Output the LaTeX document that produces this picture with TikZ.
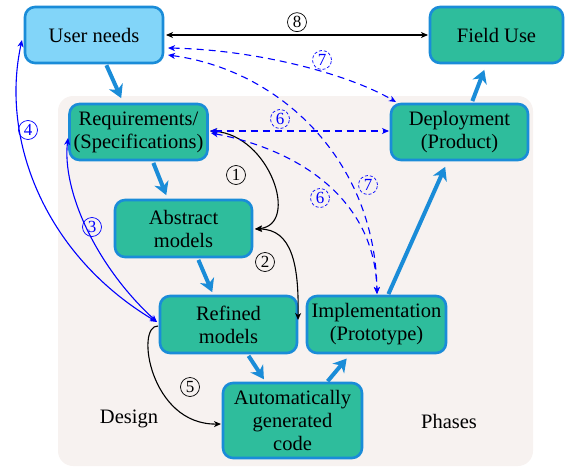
\documentclass[tikz,border=0pt]{standalone}
\usepackage{fontspec}
\setmainfont{Liberation Serif}
\newfontfamily\serf{Liberation Serif}
\usetikzlibrary{arrows.meta}
\definecolor{lblue}{HTML}{82D5F9}
\definecolor{bordblue}{HTML}{1A8CD8}
\definecolor{teal2}{HTML}{2EBD9C}
\definecolor{bgcol}{HTML}{F7F2F0}
\definecolor{pureblue}{HTML}{0000FF}
\begin{document}
\begin{tikzpicture}[x=1pt,y=-1pt,
  box/.style={draw=bordblue, line width=2.6pt, fill=teal2, rounded corners=10pt,
    minimum width=138pt, minimum height=56pt, align=center, inner sep=0pt,
    font=\serf\fontsize{20.5}{23}\selectfont},
  ubox/.style={box, fill=lblue},
  flow/.style={draw=bordblue, line width=4pt, -{Stealth[length=13pt,width=15pt,inset=4pt]}, shorten >=2pt, shorten <=1pt},
  thinarr/.style={line width=1.1pt, {Stealth[length=7pt,width=6pt,inset=2pt]}-{Stealth[length=7pt,width=6pt,inset=2pt]}},
  blk/.style={thinarr, black},
  blu/.style={thinarr, pureblue},
  dsh/.style={thinarr, pureblue, dash pattern=on 7pt off 5pt},
  num/.style={circle, draw, line width=0.7pt, inner sep=0pt, minimum size=19pt, font=\serf\fontsize{17}{17}\selectfont},
  bnum/.style={num, pureblue},
  dnum/.style={num, pureblue, dash pattern=on 3pt off 2pt},
  lbl/.style={font=\serf\fontsize{20.5}{23}\selectfont}
]
\useasboundingbox (0,0) rectangle (565,466);
\fill[bgcol, rounded corners=15pt] (58,96) rectangle (533,466);

\node[ubox] (user) at (94,35) {User needs};
\node[box, minimum width=133pt] (field) at (496.5,35) {Field Use};
\node[box] (req) at (138.5,132) {Requirements/\\(Specifications)};
\node[box, minimum width=137pt] (dep) at (459.5,132) {Deployment\\(Product)};
\node[box, minimum width=137pt, minimum height=57pt] (abs) at (183.5,228.5) {Abstract\\models};
\node[box, minimum width=137pt, minimum height=57pt] (ref) at (228.5,324.5) {Refined\\models};
\node[box, minimum width=139pt, minimum height=57pt] (imp) at (376.5,324.5) {Implementation\\(Prototype)};
\node[box, minimum width=139pt, minimum height=75pt] (code) at (292.5,420.5) {Automatically\\generated\\code};

\node[lbl] (design) at (129,419) {Design};
\node[lbl] (phases) at (449,421) {Phases};

% coordinates on borders
\coordinate (uE1) at (166,35);
\coordinate (uE2) at (168,48);
\coordinate (uE3) at (168,55);
\coordinate (uW) at (22,40);
\coordinate (fW) at (428,35);
\coordinate (rE) at (210,131);
\coordinate (rE2) at (211,133);
\coordinate (rW) at (68,138);
\coordinate (dW) at (389,131);
\coordinate (dNW) at (396,102);
\coordinate (aE) at (255,229);
\coordinate (fE) at (298,320);
\coordinate (fWp) at (157,322);
\coordinate (fW2) at (158,326);
\coordinate (cW) at (221,424);
\coordinate (iN) at (377,294);

% flow arrows
\draw[flow] (user.south -| 106,0) -- (122,100);
\draw[flow] (153,162) -- (167,197);
\draw[flow] (198,259) -- (213,294);
\draw[flow] (248,355) -- (265,381);
\draw[flow] (327,382) -- (348,357);
\draw[flow] (388,295) -- (446,165);
\draw[flow] (472,102) -- (485,68);

% black connectors
\draw[blk] (uE1) -- node[num, above=3pt] {8} (fW);
\draw[blk] (rE) .. controls (270,135) and (300,225) .. (aE);
\node[num] (n1) at (236,175) {1};
\draw[blk] (aE) .. controls (292,229) and (299,265) .. (fE);
\node[num] (n2) at (265,262) {2};
\draw[line width=1.1pt, -{Stealth[length=7pt,width=6pt,inset=2pt]}] (fW2) .. controls (135,325) and (150,425) .. (cW);
\node[num] (n5) at (190,387) {5};

% blue solid
\draw[blu] (fWp) .. controls (95,265) and (62,190) .. (rW);
\node[bnum] (n3) at (92,227) {3};
\draw[blu] (fWp) .. controls (45,255) and (0,140) .. (uW);
\node[bnum] (n4) at (28,130) {4};

% blue dashed
\draw[dsh] (rE) -- (dW);
\node[dnum] (n6a) at (280,119) {6};
\draw[dsh] (rE2) .. controls (300,150) and (375,200) .. (iN);
\node[dnum] (n6b) at (320,198) {6};
\draw[dsh] (uE2) .. controls (260,50) and (350,75) .. (dNW);
\node[dnum] (n7a) at (322,60) {7};
\draw[dsh] (uE3) .. controls (280,70) and (375,160) .. (iN);
\node[dnum] (n7b) at (368,185) {7};
\end{tikzpicture}
\end{document}
